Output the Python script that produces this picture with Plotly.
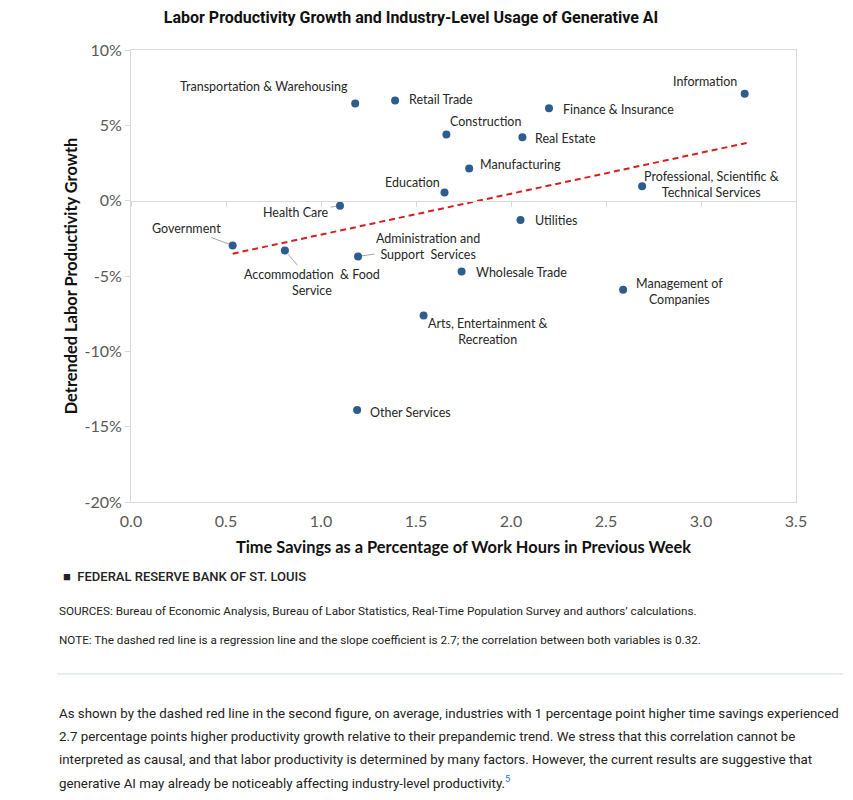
import plotly.graph_objects as go

# ---------------- data ----------------
industries = [
    "Transportation & Warehousing", "Retail Trade", "Construction", "Manufacturing",
    "Education", "Health Care", "Finance & Insurance", "Real Estate", "Information",
    "Professional, Scientific &<br>Technical Services", "Government",
    "Accommodation  & Food<br>Service", "Administration and<br>Support  Services",
    "Wholesale Trade", "Arts, Entertainment &<br>Recreation", "Utilities",
    "Management of<br>Companies", "Other Services",
]
time_savings = [1.18, 1.39, 1.66, 1.78, 1.65, 1.10, 2.20, 2.06, 3.23,
                2.69, 0.535, 0.81, 1.195, 1.74, 1.54, 2.05, 2.59, 1.19]
productivity = [6.45, 6.64, 4.39, 2.13, 0.55, -0.33, 6.13, 4.21, 7.09,
                0.95, -2.97, -3.30, -3.70, -4.70, -7.62, -1.28, -5.91, -13.89]

reg_x = [0.535, 3.24]
reg_y = [-3.52, 3.83]

x_tick_vals = [0.0, 0.5, 1.0, 1.5, 2.0, 2.5, 3.0, 3.5]
y_tick_vals = [-20, -15, -10, -5, 0, 5, 10]
y_tick_text = ["-20%", "-15%", "-10%", "-5%", "0%", "5%", "10%"]

# label placement: (mode, dx, dy, xanchor)
#   "shift": no leader, dx right / dy up (pixels)
#   "arrow": leader line, text centre offset dx right / dy down (pixels)
label_style = [
    ("shift", -5, 17, "right"), ("shift", 12, 1, "left"), ("shift", 2, 13, "left"),
    ("shift", 9, 4, "left"), ("shift", -3, 10, "right"), ("arrow", -44, 7, "center"),
    ("shift", 12, -1, "left"), ("shift", 11, -1, "left"), ("shift", -6, 12, "right"),
    ("shift", 69, 2, "center"), ("arrow", -46, -17, "center"), ("arrow", 27, 32, "center"),
    ("arrow", 70, -10, "center"), ("shift", 12, -1, "left"), ("shift", 64, -16, "center"),
    ("shift", 12, -1, "left"), ("shift", 56, -2, "center"), ("shift", 11, -3, "left"),
]

# ---------------- figure ----------------
OFF = 8                      # page body margin of the html page
W, H = 853 - OFF, 800 - OFF
ML, MT = 131 - OFF, 50 - OFF
MR = 57
MB = H - (502 - OFF)
PW, PH = W - ML - MR, H - MT - MB

def px(xp):  # reference page pixel -> paper x
    return (xp - OFF - ML) / PW

def py(yp):  # reference page pixel -> paper y
    return (H - MB - (yp - OFF)) / PH

GRID = "#d9d9d9"
LABEL_FONT = dict(family="Lato, Open Sans, sans-serif", size=12.5, color="#262626")

fig = go.Figure()
fig.add_trace(go.Scatter(
    x=reg_x, y=reg_y, mode="lines", xaxis="x2",
    line=dict(color="#d42020", width=2, dash="6px,4px"), hoverinfo="skip", showlegend=False))
fig.add_trace(go.Scatter(
    x=time_savings, y=productivity, mode="markers",
    marker=dict(size=8, color="#2c5d8c"), text=industries, showlegend=False))

for name, xv, yv, st in zip(industries, time_savings, productivity, label_style):
    mode, dx, dy, xa = st
    if mode == "shift":
        fig.add_annotation(x=xv, y=yv, text=name, showarrow=False, xanchor=xa,
                           xshift=dx, yshift=dy, font=LABEL_FONT, align="center")
    else:
        fig.add_annotation(x=xv, y=yv, text=name, showarrow=True, arrowhead=0,
                           arrowwidth=1, arrowcolor="#a6a6a6", ax=dx, ay=dy,
                           standoff=4, font=LABEL_FONT, align="center")

fig.update_layout(
    width=W, height=H, margin=dict(l=ML, r=MR, t=MT, b=MB),
    paper_bgcolor="white", plot_bgcolor="white",
    title=dict(text="<b>Labor Productivity Growth and Industry-Level Usage of Generative AI</b>",
               x=(411 - OFF) / W, xref="container", xanchor="center",
               y=1 - (17 - OFF) / H, yref="container", yanchor="middle",
               font=dict(family="Roboto, sans-serif", size=16, color="#111111")),
    xaxis=dict(range=[0, 3.5], tickvals=x_tick_vals, tickformat=".1f",
               showgrid=False, zeroline=False, showline=True, mirror=True, linecolor=GRID,
               ticks="outside", ticklen=5, tickcolor="rgba(0,0,0,0)",
               tickfont=dict(family="Lato, sans-serif", size=16, color="#595959"),
               title=dict(text="<b>Time Savings as a Percentage of Work Hours in Previous Week</b>",
                          font=dict(family="Lato, sans-serif", size=16.4, color="#111111"), standoff=12)),
    xaxis2=dict(range=[0, 3.5], overlaying="x", anchor="free", position=20 / 30,
                tickvals=x_tick_vals, showticklabels=False, showgrid=False, zeroline=False,
                showline=True, linecolor=GRID, ticks="outside", ticklen=5, tickcolor=GRID),
    yaxis=dict(range=[-20, 10], tickvals=y_tick_vals, ticktext=y_tick_text,
               showgrid=False, zeroline=False, showline=True, mirror=True, linecolor=GRID,
               ticks="outside", ticklen=5, tickcolor=GRID,
               tickfont=dict(family="Lato, sans-serif", size=16, color="#595959"),
               title=dict(text="<b>Detrended Labor Productivity Growth</b>",
                          font=dict(family="Lato, sans-serif", size=16.4, color="#111111"), standoff=2)),
)

TXT = "Roboto, sans-serif"
fig.add_annotation(xref="paper", yref="paper", x=px(61), y=py(576), xanchor="left", yanchor="middle",
                   text="■  FEDERAL RESERVE BANK OF ST. LOUIS", showarrow=False,
                   font=dict(family=TXT, size=13, weight=500, color="#222222"))
fig.add_annotation(xref="paper", yref="paper", x=px(57), y=py(611), xanchor="left", yanchor="middle",
                   text="SOURCES: Bureau of Economic Analysis, Bureau of Labor Statistics, Real-Time Population Survey and authors\u2019 calculations.",
                   showarrow=False, font=dict(family=TXT, size=11.7, color="#222222"))
fig.add_annotation(xref="paper", yref="paper", x=px(57), y=py(640), xanchor="left", yanchor="middle",
                   text="NOTE: The dashed red line is a regression line and the slope coefficient is 2.7; the correlation between both variables is 0.32.",
                   showarrow=False, font=dict(family=TXT, size=11.7, color="#222222"))
fig.add_shape(type="line", xref="paper", yref="paper", x0=px(57), x1=px(843), y0=py(674), y1=py(674),
              line=dict(color="#cfdde7", width=1))

para_lines = [
    "As shown by the dashed red line in the second figure, on average, industries with 1 percentage point higher time savings experienced",
    "2.7 percentage points higher productivity growth relative to their prepandemic trend. We stress that this correlation cannot be",
    "interpreted as causal, and that labor productivity is determined by many factors. However, the current results are suggestive that",
    "generative AI may already be noticeably affecting industry-level productivity.<sup><span style='color:#1a6fc9'>5</span></sup>",
]
for i, line in enumerate(para_lines):
    fig.add_annotation(xref="paper", yref="paper", x=px(57), y=py(713 + 23 * i), xanchor="left",
                       yanchor="middle", text=line, showarrow=False,
                       font=dict(family=TXT, size=13.3, color="#222222"))

fig.write_html("out.html")
